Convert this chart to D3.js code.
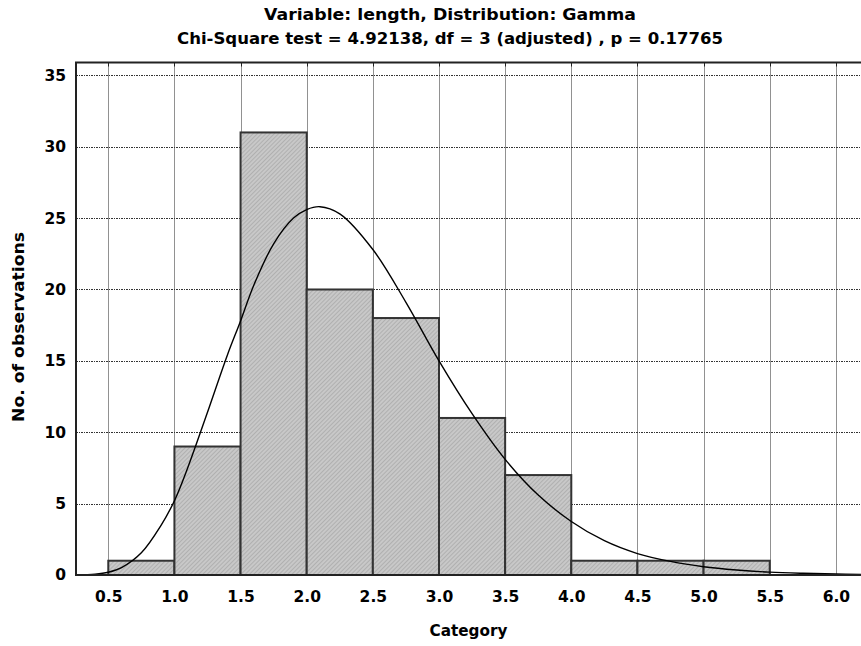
<!DOCTYPE html>
<html>
<head>
<meta charset="utf-8">
<script src="https://cdn.jsdelivr.net/npm/d3@7/dist/d3.min.js"></script>
<style>
  html, body { margin: 0; padding: 0; background: #fff; }
  svg { display: block; }
  text { font-family: "DejaVu Sans", Verdana, sans-serif; font-weight: bold; fill: #000; }
</style>
</head>
<body>
<svg id="chart" width="861" height="646"></svg>
<script>
// Histogram bins (lower / upper bound) and observed counts
const binLower = [0.5, 1.0, 1.5, 2.0, 2.5, 3.0, 3.5, 4.0, 4.5, 5.0];
const binUpper = [1.0, 1.5, 2.0, 2.5, 3.0, 3.5, 4.0, 4.5, 5.0, 5.5];
const counts   = [1, 9, 31, 20, 18, 11, 7, 1, 1, 1];

// Expected frequencies of the fitted Gamma distribution (x, expected count)
const fitX = [0.26, 0.4, 0.5, 0.6, 0.75, 0.9, 1.0, 1.1, 1.25, 1.4, 1.5, 1.6, 1.75, 1.9, 2.0, 2.1,
              2.25, 2.5, 2.75, 3.0, 3.25, 3.5, 3.75, 4.0, 4.25, 4.5, 4.75, 5.0, 5.25, 5.5, 5.75, 6.0, 6.19];
const fitY = [0.0, 0.05, 0.19, 0.52, 1.56, 3.5, 5.2, 7.5, 11.4, 15.4, 17.8, 20.3, 23.2, 25.0, 25.6, 25.8,
              25.3, 22.8, 19.1, 15.0, 11.3, 8.1, 5.6, 3.75, 2.4, 1.5, 0.95, 0.58, 0.35, 0.2, 0.12, 0.07, 0.045];

// Axis ticks
const xTicks = [0.5, 1.0, 1.5, 2.0, 2.5, 3.0, 3.5, 4.0, 4.5, 5.0, 5.5, 6.0];
const yTicks = [0, 5, 10, 15, 20, 25, 30, 35];

const titleLines = ["Variable: length, Distribution: Gamma",
                    "Chi-Square test = 4.92138, df = 3 (adjusted) , p = 0.17765"];
const titleWidths = [372, 546];
const xTitle = "Category";
const yTitle = "No. of observations";

const svg = d3.select("#chart");
const plot = { left: 76, right: 861, top: 62.5, bottom: 575 };

const x = d3.scaleLinear().domain([0.256, 6.19]).range([plot.left, plot.right]);
const y = d3.scaleLinear().domain([0, 35.9]).range([plot.bottom, plot.top]);

// Hatched fill for the bars
const defs = svg.append("defs");
const pat = defs.append("pattern")
  .attr("id", "hatch").attr("patternUnits", "userSpaceOnUse")
  .attr("width", 3).attr("height", 3)
  .attr("patternTransform", "rotate(45)");
pat.append("rect").attr("width", 3).attr("height", 3).attr("fill", "#c8c8c8");
pat.append("line").attr("x1", 0).attr("y1", 0).attr("x2", 0).attr("y2", 3)
  .attr("stroke", "#a0a0a0").attr("stroke-width", 1.2);

defs.append("clipPath").attr("id", "plotclip").append("rect")
  .attr("x", plot.left).attr("y", plot.top)
  .attr("width", plot.right - plot.left).attr("height", plot.bottom - plot.top);

// Grid lines
const grid = svg.append("g");
grid.selectAll("line.vg").data(xTicks).join("line")
  .attr("class", "vg")
  .attr("x1", d => Math.round(x(d)) + 0.5).attr("x2", d => Math.round(x(d)) + 0.5)
  .attr("y1", plot.top).attr("y2", plot.bottom)
  .attr("stroke", "#222").attr("stroke-width", 1).attr("stroke-dasharray", "1,1");
grid.selectAll("line.hg").data(yTicks.filter(d => d > 0)).join("line")
  .attr("class", "hg")
  .attr("x1", plot.left).attr("x2", plot.right)
  .attr("y1", d => Math.round(y(d)) + 0.5).attr("y2", d => Math.round(y(d)) + 0.5)
  .attr("stroke", "#333").attr("stroke-width", 1).attr("stroke-dasharray", "2,1,1,1");

// Bars
const bins = counts.map((c, i) => ({ lo: binLower[i], hi: binUpper[i], n: c }));
svg.append("g").selectAll("rect").data(bins).join("rect")
  .attr("x", d => x(d.lo))
  .attr("y", d => y(d.n))
  .attr("width", d => x(d.hi) - x(d.lo))
  .attr("height", d => y(0) - y(d.n))
  .attr("fill", "url(#hatch)")
  .attr("stroke", "#333").attr("stroke-width", 2);

// Fitted curve
const fit = fitX.map((v, i) => [v, fitY[i]]);
svg.append("path")
  .datum(fit)
  .attr("clip-path", "url(#plotclip)")
  .attr("fill", "none").attr("stroke", "#000").attr("stroke-width", 1.4)
  .attr("d", d3.line().x(d => x(d[0])).y(d => y(d[1])).curve(d3.curveCatmullRom.alpha(0.5)));

// Frame: left, top and bottom axis lines
const frame = svg.append("g").attr("stroke", "#222").attr("fill", "none");
frame.append("line").attr("x1", plot.left).attr("x2", plot.left)
  .attr("y1", plot.top).attr("y2", plot.bottom + 1).attr("stroke-width", 2);
frame.append("line").attr("x1", plot.left - 1).attr("x2", plot.right)
  .attr("y1", plot.top).attr("y2", plot.top).attr("stroke-width", 2);
frame.append("line").attr("x1", plot.left - 1).attr("x2", plot.right)
  .attr("y1", plot.bottom).attr("y2", plot.bottom).attr("stroke-width", 2);

// Small inward ticks along the top edge
svg.append("g").selectAll("line").data(xTicks).join("line")
  .attr("x1", d => Math.round(x(d)) + 0.5).attr("x2", d => Math.round(x(d)) + 0.5)
  .attr("y1", plot.top).attr("y2", plot.top + 4)
  .attr("stroke", "#222").attr("stroke-width", 1);

// Axes (labels only; lines are drawn by the frame)
const xAxis = svg.append("g")
  .attr("transform", `translate(0,${plot.bottom})`)
  .call(d3.axisBottom(x).tickValues(xTicks).tickFormat(d3.format(".1f")).tickSize(0).tickPadding(16));
xAxis.select(".domain").remove();
xAxis.selectAll("text").attr("font-size", 15.5).attr("font-family", "DejaVu Sans").attr("font-weight", "bold").attr("fill", "#000");

const yAxis = svg.append("g")
  .attr("transform", `translate(${plot.left},0)`)
  .call(d3.axisLeft(y).tickValues(yTicks).tickFormat(d3.format("d")).tickSize(0).tickPadding(10));
yAxis.select(".domain").remove();
yAxis.selectAll("text").attr("font-size", 15.5).attr("font-family", "DejaVu Sans").attr("font-weight", "bold").attr("fill", "#000");

// Titles
svg.append("g").selectAll("text").data(titleLines).join("text")
  .attr("x", 450).attr("y", (d, i) => 20 + i * 24)
  .attr("text-anchor", "middle").attr("font-size", 15.5)
  .attr("textLength", (d, i) => titleWidths[i]).attr("lengthAdjust", "spacingAndGlyphs")
  .text(d => d);

svg.append("text")
  .attr("x", (plot.left + plot.right) / 2).attr("y", 636)
  .attr("text-anchor", "middle").attr("font-size", 15)
  .attr("textLength", 78).attr("lengthAdjust", "spacingAndGlyphs")
  .text(xTitle);

svg.append("text")
  .attr("transform", `translate(24,${327}) rotate(-90)`)
  .attr("text-anchor", "middle").attr("font-size", 15)
  .attr("textLength", 190).attr("lengthAdjust", "spacingAndGlyphs")
  .text(yTitle);
</script>
</body>
</html>
